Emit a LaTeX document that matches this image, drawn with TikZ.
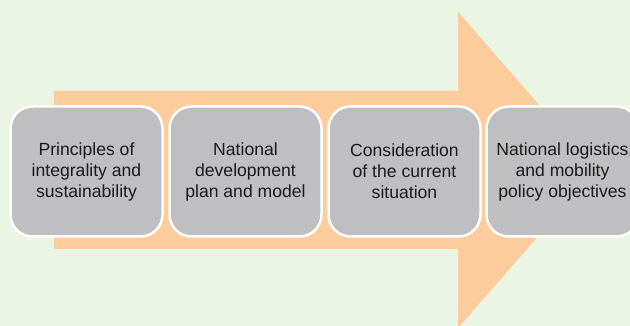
\documentclass[tikz,border=0pt]{standalone}
\usepackage{fontspec}
\setmainfont{Liberation Sans}
\definecolor{bg}{HTML}{EBF5E3}
\definecolor{arrowc}{HTML}{FDCC9C}
\definecolor{boxc}{HTML}{BFBFC1}
\definecolor{txt}{HTML}{1A1A1A}
\begin{document}
\begin{tikzpicture}[x=1pt,y=-1pt,
  stepbox/.style={draw=white,line width=2.5pt,fill=boxc,rounded corners=22pt,
    minimum width=152pt,minimum height=130pt,inner sep=0pt,align=center,
    text=txt,font=\fontsize{17.6}{21}\selectfont}]
\useasboundingbox (0,0) rectangle (630,326);
\clip (0,0) rectangle (630,326);
\fill[bg] (0,0) rectangle (630,326);
\fill[arrowc] (54,91) -- (458,91) -- (458,12) -- (596,170) -- (458,328) -- (458,249) -- (54,249) -- cycle;
\node[stepbox] (b1) at (86.5,171.5) {Principles of\\integrality and\\sustainability};
\node[stepbox] (b2) at (245.5,171.5) {National\\development\\plan and model};
\node[stepbox] (b3) at (404.5,171.5) {Consideration\\of the current\\situation};
\node[stepbox] (b4) at (562.5,171.5) {National logistics\\and mobility\\policy objectives};
\end{tikzpicture}
\end{document}
